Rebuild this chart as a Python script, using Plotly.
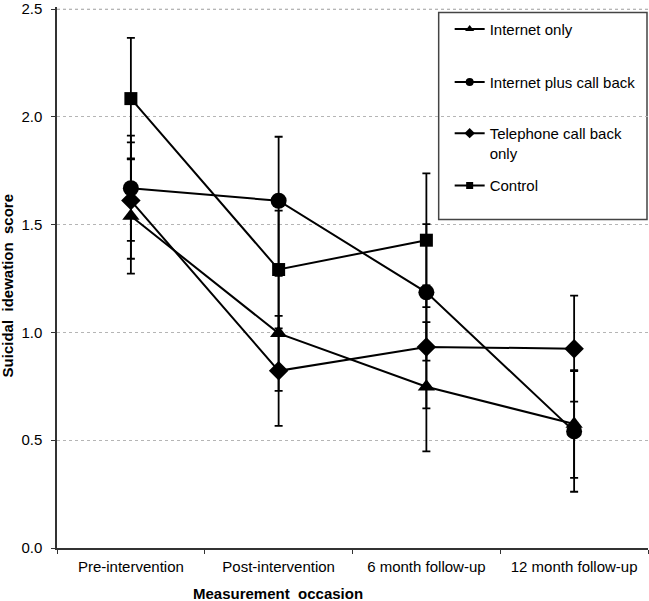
import plotly.graph_objects as go

occasions = ["Pre-intervention", "Post-intervention", "6 month follow-up", "12 month follow-up"]

internet_only = [1.54, 0.996, 0.748, 0.575]
internet_only_err = [0.267, 0.267, 0.30, 0.25]

internet_plus = [1.669, 1.611, 1.186, 0.541]
internet_plus_err = [0.244, 0.297, 0.317, 0.28]

telephone_only = [1.612, 0.822, 0.933, 0.925]
telephone_only_err = [0.27, 0.255, 0.285, 0.246]

control = [2.085, 1.292, 1.428, None]
control_err = [0.282, 0.273, 0.31, None]

y_ticks = [0.0, 0.5, 1.0, 1.5, 2.0, 2.5]

FONT = "Liberation Sans, Arial, sans-serif"

series = [
    ("Internet only", internet_only, internet_only_err, "triangle-up", 15, 8, "legend"),
    ("Internet plus call back", internet_plus, internet_plus_err, "circle", 16, 8, "legend2"),
    ("Telephone call back<br>only", telephone_only, telephone_only_err, "diamond", 15, 8, "legend3"),
    ("Control", control, control_err, "square", 13, 7, "legend4"),
]

fig = go.Figure()
for name, vals, errs, sym, size, lsize, leg in series:
    fig.add_trace(go.Scatter(
        x=occasions, y=vals, mode="lines+markers", showlegend=False,
        line=dict(color="black", width=2),
        marker=dict(symbol=sym, size=size, color="black"),
        error_y=dict(type="data", array=errs, visible=True, color="black",
                     thickness=1.8, width=4),
        cliponaxis=False,
    ))
    # legend entry with small marker
    fig.add_trace(go.Scatter(
        x=[None], y=[None], mode="lines+markers", name=name, legend=leg,
        line=dict(color="black", width=2),
        marker=dict(symbol=sym, size=lsize, color="black"),
    ))

Y_MAX = 2.51
PX_PER_UNIT = 216.4
L = 57.0
R = 648.5
B = 547.7
T = B - Y_MAX * PX_PER_UNIT
W = R - L
H = B - T

def px(xp):
    return (xp - L) / W

def py(yp):
    return (B - yp) / H

leg_common = dict(font=dict(family=FONT, size=15, color="black"),
                  bgcolor="rgba(0,0,0,0)", borderwidth=0, xanchor="left",
                  yanchor="middle", valign="top", itemsizing="trace")

fig.update_layout(
    width=649, height=601,
    margin=dict(l=L, r=649 - R, t=T, b=601 - B),
    paper_bgcolor="white", plot_bgcolor="white",
    font=dict(family=FONT, size=15, color="black"),
    legend=dict(x=px(450), y=py(27), **leg_common),
    legend2=dict(x=px(450), y=py(80), **leg_common),
    legend3=dict(x=px(450), y=py(141), **leg_common),
    legend4=dict(x=px(450), y=py(184), **leg_common),
    xaxis=dict(
        type="category", categoryorder="array", categoryarray=occasions,
        range=[-0.5, 3.5], tickson="boundaries", ticks="outside", ticklen=4,
        tickcolor="#333", showline=True, linecolor="#333", linewidth=1.5,
        showgrid=False, zeroline=False, tickfont=dict(size=15, family=FONT),
        ticklabelstandoff=4,
    ),
    yaxis=dict(
        range=[0, Y_MAX], tickvals=y_ticks, tickformat=".1f", ticks="outside",
        ticklen=4, tickcolor="#333", showline=True, linecolor="#333",
        linewidth=1.5, showgrid=True, gridcolor="#b5b5b5", griddash="dot",
        gridwidth=1, zeroline=False, tickfont=dict(size=15, family=FONT),
        ticklabelstandoff=6, ticklabeloverflow="allow",
    ),
    shapes=[
        dict(type="line", xref="paper", yref="y", x0=0, x1=1,
             y0=y_ticks[-1], y1=y_ticks[-1],
             line=dict(color="#b5b5b5", width=1, dash="dot"), layer="below"),
        dict(type="rect", xref="paper", yref="paper",
             x0=px(439), x1=px(647.5), y0=py(218), y1=py(10),
             line=dict(color="#444", width=1.5), fillcolor="white",
             layer="between"),
    ],
    annotations=[
        dict(text="<b>Measurement\u00a0\u00a0occasion</b>", xref="paper", yref="paper",
             x=px(278), y=py(593), xanchor="center", yanchor="middle",
             showarrow=False, font=dict(family=FONT, size=15, color="black")),
        dict(text="<b>Suicidal\u00a0\u00a0idewation\u00a0\u00a0score</b>", xref="paper", yref="paper",
             x=px(7), y=py(285), xanchor="center", yanchor="middle", textangle=-90,
             showarrow=False, font=dict(family=FONT, size=15, color="black")),
    ],
)

fig.write_html("out.html", config={"displayModeBar": False},
               post_script="document.body.style.margin='0';document.body.style.overflow='hidden';")
